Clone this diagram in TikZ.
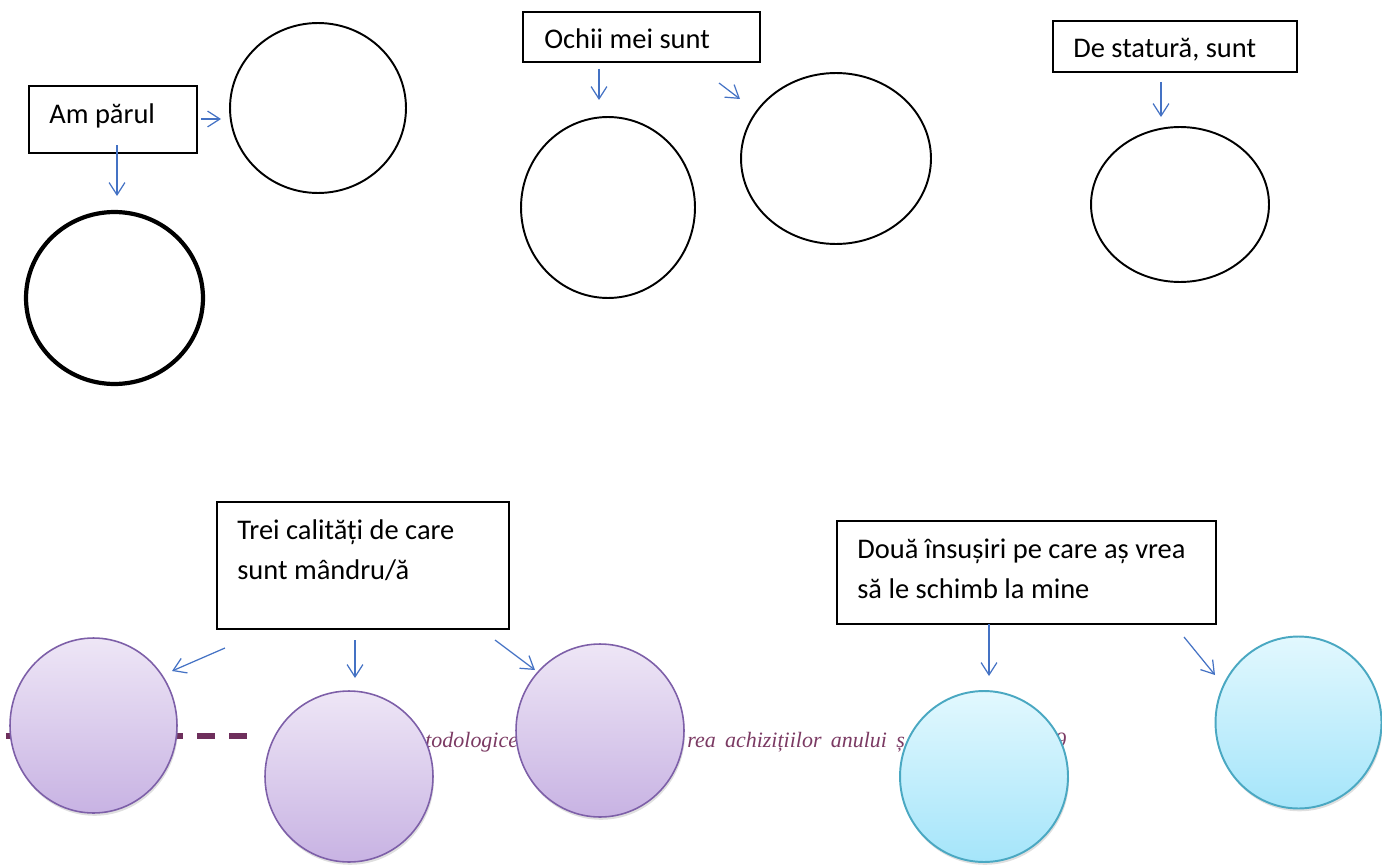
\documentclass[tikz,border=0pt]{standalone}
\usepackage{fontspec}
\setmainfont{Carlito}
\newfontfamily\footfont[WordSpace={1.7}]{Liberation Serif}
\usetikzlibrary{arrows.meta,shapes.geometric,shadows}
\definecolor{arrowblue}{HTML}{4472C4}
\definecolor{purpTop}{HTML}{EEE6F6}
\definecolor{purpBot}{HTML}{C8B3E3}
\definecolor{purpEdge}{HTML}{7D5FA8}
\definecolor{cyanTop}{HTML}{E2F8FE}
\definecolor{cyanBot}{HTML}{A5E5FA}
\definecolor{cyanEdge}{HTML}{4AA8C2}
\definecolor{footcol}{HTML}{7B3A63}
\definecolor{dashcol}{HTML}{6E2F5C}
\tikzset{
  box/.style={draw=black, line width=0.75pt, rectangle, inner sep=0pt, fill=white},
  lbl/.style={anchor=base west, inner sep=0pt, font=\fontsize{16.2pt}{22.5pt}\selectfont, text=black, align=left},
  oval/.style={ellipse, draw=black, inner sep=0pt, line width=1.1pt},
  thickoval/.style={ellipse, draw=black, inner sep=0pt, line width=2.4pt},
  purp/.style={ellipse, draw=purpEdge, line width=0.9pt, inner sep=0pt, top color=purpTop, bottom color=purpBot,
     drop shadow={opacity=0.25, shadow xshift=0.6pt, shadow yshift=-1.6pt}},
  cyanc/.style={ellipse, draw=cyanEdge, line width=1.1pt, inner sep=0pt, top color=cyanTop, bottom color=cyanBot,
     drop shadow={opacity=0.25, shadow xshift=0.6pt, shadow yshift=-1.6pt}},
  arr/.style={draw=arrowblue, line width=0.7pt, -{Straight Barb[length=7pt,width=9pt,line width=0.7pt]}},
  foot/.style={anchor=base west, inner sep=0pt, text=footcol, font=\footfont\itshape\fontsize{12.5pt}{15pt}\selectfont}
}
\begin{document}
\begin{tikzpicture}[x=0.02cm,y=-0.02cm]
\useasboundingbox (0,0) rectangle (1382,865);

% footer pieces (behind circles)
\draw[dashcol, line width=2.9pt, dash pattern=on 10.2pt off 7.94pt] (6,736) -- (248,736);
\node[foot] (f1) at (425,747) {todologice};
\node[foot] (f2) at (687,747) {rea achizițiilor anului ș};
\node[foot] (f3) at (1055,747) {9};

% ---------- top left ----------
\node[box, minimum width=3.36cm, minimum height=1.34cm] (b1) at (113,119.5) {};
\node[lbl] (t1) at (49,123) {Am părul};
\node[oval, minimum width=3.52cm, minimum height=3.40cm] (e1) at (318,108) {};
\node[thickoval, minimum width=3.54cm, minimum height=3.44cm] (e2) at (114.5,298) {};
\coordinate (a1s) at (201,119); \coordinate (a1e) at (221,119);
\coordinate (a2s) at (117,145); \coordinate (a2e) at (117,196);
\draw[arr] (a1s) -- (a1e);
\draw[arr] (a2s) -- (a2e);

% ---------- top middle ----------
\node[box, minimum width=4.74cm, minimum height=1.0cm] (b2) at (641.5,37) {};
\node[lbl] (t2) at (544,49) {Ochii mei sunt};
\node[oval, minimum width=3.48cm, minimum height=3.62cm] (e3) at (608,207.5) {};
\node[oval, minimum width=3.80cm, minimum height=3.42cm] (e4) at (836,158.5) {};
\coordinate (a3s) at (599,69); \coordinate (a3e) at (599,100);
\coordinate (a4s) at (719,83); \coordinate (a4e) at (740,99);
\draw[arr] (a3s) -- (a3e);
\draw[arr] (a4s) -- (a4e);

% ---------- top right ----------
\node[box, minimum width=4.88cm, minimum height=1.02cm] (b3) at (1175,46.5) {};
\node[lbl] (t3) at (1073,58) {De statură, sunt};
\node[oval, minimum width=3.56cm, minimum height=3.10cm] (e5) at (1180,204.5) {};
\coordinate (a5s) at (1161,82); \coordinate (a5e) at (1161,117);
\draw[arr] (a5s) -- (a5e);

% ---------- bottom left ----------
\node[box, minimum width=5.84cm, minimum height=2.54cm] (b4) at (363,565.5) {};
\node[lbl] (t4) at (237,579) {Trei calități de care\\sunt mândru/ă};
\node[purp, minimum width=3.34cm, minimum height=3.50cm] (p1) at (93.5,725.5) {};
\node[purp, minimum width=3.36cm, minimum height=3.42cm] (p2) at (349,776.5) {};
\node[purp, minimum width=3.36cm, minimum height=3.46cm] (p3) at (600,730.5) {};
\coordinate (a6s) at (225,648); \coordinate (a6e) at (172,671);
\coordinate (a7s) at (355,640); \coordinate (a7e) at (355,678);
\coordinate (a8s) at (495,640); \coordinate (a8e) at (535,670);
\draw[arr] (a6s) -- (a6e);
\draw[arr] (a7s) -- (a7e);
\draw[arr] (a8s) -- (a8e);

% ---------- bottom right ----------
\node[box, minimum width=7.58cm, minimum height=2.06cm] (b5) at (1026.5,572.5) {};
\node[lbl] (t5) at (857,598) {Două însușiri pe care aș vrea\\să le schimb la mine};
\node[cyanc, minimum width=3.36cm, minimum height=3.42cm] (c1) at (984,776.5) {};
\node[cyanc, minimum width=3.32cm, minimum height=3.44cm] (c2) at (1298.5,722.5) {};
\coordinate (a9s) at (989,624); \coordinate (a9e) at (989,676);
\coordinate (a10s) at (1184,637); \coordinate (a10e) at (1215,675);
\draw[arr] (a9s) -- (a9e);
\draw[arr] (a10s) -- (a10e);
\end{tikzpicture}
\end{document}
